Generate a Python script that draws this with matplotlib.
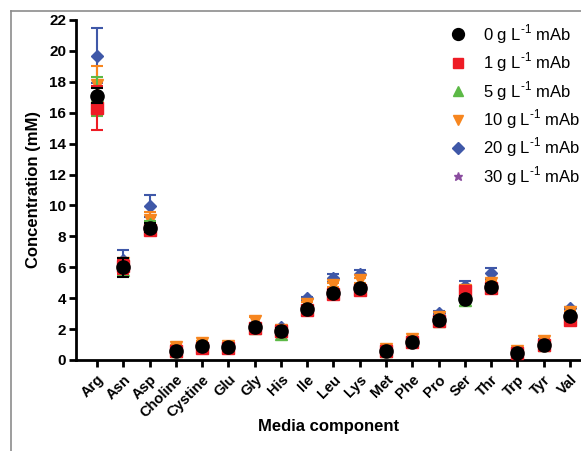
import numpy as np
import matplotlib.pyplot as plt
from matplotlib.lines import Line2D

plt.rcParams['font.family'] = ['Liberation Sans', 'DejaVu Sans']
plt.rcParams['mathtext.fontset'] = 'custom'
plt.rcParams['mathtext.rm'] = 'Liberation Sans'

# media components
cats = ['Arg', 'Asn', 'Asp', 'Choline', 'Cystine', 'Glu', 'Gly', 'His', 'Ile', 'Leu',
        'Lys', 'Met', 'Phe', 'Pro', 'Ser', 'Thr', 'Trp', 'Tyr', 'Val']

# concentrations (mM) for each mAb level
mab0 = [17.1, 6.0, 8.55, 0.55, 0.88, 0.85, 2.15, 1.9, 3.3, 4.35, 4.65, 0.55, 1.15, 2.6, 3.95, 4.75, 0.45, 1.0, 2.85]
mab1 = [16.3, 6.05, 8.4, 0.6, 0.8, 0.8, 2.1, 1.85, 3.25, 4.25, 4.5, 0.55, 1.15, 2.5, 4.45, 4.65, 0.45, 0.95, 2.6]
mab5 = [17.05, 5.8, 8.8, 0.55, 0.9, 0.85, 2.1, 1.7, 3.3, 4.4, 4.6, 0.55, 1.2, 2.55, 3.9, 4.7, 0.5, 1.0, 2.85]
mab10 = [17.8, 6.3, 9.05, 0.85, 1.1, 0.9, 2.55, 1.95, 3.6, 4.85, 5.15, 0.7, 1.35, 2.75, 4.5, 4.95, 0.6, 1.2, 3.1]
mab20 = [19.7, 6.5, 9.95, 0.7, 1.0, 0.9, 2.3, 2.15, 4.0, 5.3, 5.55, 0.7, 1.35, 3.05, 4.8, 5.6, 0.55, 1.25, 3.35]
mab30 = [16.8, 6.2, 8.8, 0.6, 0.9, 0.85, 2.2, 1.9, 3.4, 4.5, 4.8, 0.6, 1.2, 2.65, 4.2, 4.9, 0.5, 1.05, 2.95]

# standard deviations
err0 = [0.5, 0.6, 0.3, 0.1, 0.1, 0.05, 0.1, 0.15, 0.15, 0.2, 0.15, 0.1, 0.1, 0.15, 0.2, 0.15, 0.1, 0.1, 0.15]
err1 = [1.4, 0.5, 0.3, 0.2, 0.25, 0.15, 0.1, 0.15, 0.15, 0.25, 0.15, 0.2, 0.2, 0.15, 0.3, 0.15, 0.15, 0.2, 0.15]
err5 = [1.25, 0.3, 0.2, 0.1, 0.1, 0.05, 0.15, 0.15, 0.1, 0.15, 0.1, 0.1, 0.1, 0.1, 0.4, 0.1, 0.1, 0.1, 0.1]
err10 = [1.25, 0.3, 0.5, 0.1, 0.1, 0.05, 0.2, 0.1, 0.15, 0.15, 0.15, 0.1, 0.1, 0.1, 0.2, 0.15, 0.1, 0.1, 0.1]
err20 = [1.75, 0.6, 0.7, 0.1, 0.1, 0.05, 0.1, 0.1, 0.1, 0.25, 0.25, 0.1, 0.1, 0.1, 0.3, 0.35, 0.1, 0.1, 0.1]
err30 = [0.85, 0.3, 0.2, 0.1, 0.1, 0.05, 0.1, 0.1, 0.1, 0.15, 0.15, 0.1, 0.1, 0.1, 0.2, 0.15, 0.1, 0.1, 0.1]

labels = [r'%s g L$^{\text{-1}}$ mAb' % s for s in ['0', '1', '5', '10', '20', '30']]
values = [mab0, mab1, mab5, mab10, mab20, mab30]
errs = [err0, err1, err5, err10, err20, err30]
colors = ['#000000', '#ee1c25', '#5cb946', '#f7861f', '#3f58a8', '#8a4c9f']
markers = ['o', 's', '^', 'v', 'D', '*']
msizes = [9.5, 8, 8, 8, 6.5, 7]

fig = plt.figure(figsize=(5.81, 4.51), dpi=100)
ax = fig.add_axes([0.1308, 0.2018, 0.8692, 0.7539])

x = np.arange(len(cats))
# draw the last series first so black sits on top
for i in reversed(range(6)):
    ax.errorbar(x, values[i], yerr=errs[i], fmt=markers[i], color=colors[i],
                ms=msizes[i], mec=colors[i], elinewidth=1.5, capsize=4,
                capthick=1.5, zorder=3 + (6 - i))

ax.set_xlim(-0.8, 18.42)
ax.set_ylim(0, 22)
ax.set_yticks(np.arange(0, 23, 2))
ax.set_xticks(x)
ax.set_xticklabels(cats, rotation=45, ha='right', rotation_mode='anchor',
                   fontsize=10.5, fontweight='bold')
for t in ax.get_yticklabels():
    t.set_fontweight('bold')
    t.set_fontsize(11)
ax.spines['top'].set_visible(False)
ax.spines['right'].set_visible(False)
ax.spines['left'].set_linewidth(2)
ax.spines['bottom'].set_linewidth(2)
ax.tick_params(direction='out', length=5, width=2, pad=2)
ax.tick_params(axis='x', pad=4)
ax.set_xlabel('Media component', fontsize=12, fontweight='bold', labelpad=-1)
ax.set_ylabel('Concentration (mM)', fontsize=12, fontweight='bold', labelpad=6)

handles = [Line2D([], [], ls='none', marker=markers[i], color=colors[i],
                  ms=msizes[i] * 0.9) for i in range(6)]
fig.legend(handles, labels, loc='upper left', bbox_to_anchor=(0.767, 0.951),
           frameon=False, fontsize=12, handlelength=1.5, handletextpad=0.75,
           labelspacing=0.29, borderpad=0, borderaxespad=0)

# grey frame of the original screenshot
fig.add_artist(Line2D([11 / 581, 11 / 581], [0, 1 - 11 / 451], color='#8c8c8c', lw=1.2))
fig.add_artist(Line2D([11 / 581, 1], [1 - 11 / 451, 1 - 11 / 451], color='#8c8c8c', lw=1.2))

plt.savefig('out.png', dpi=100)
